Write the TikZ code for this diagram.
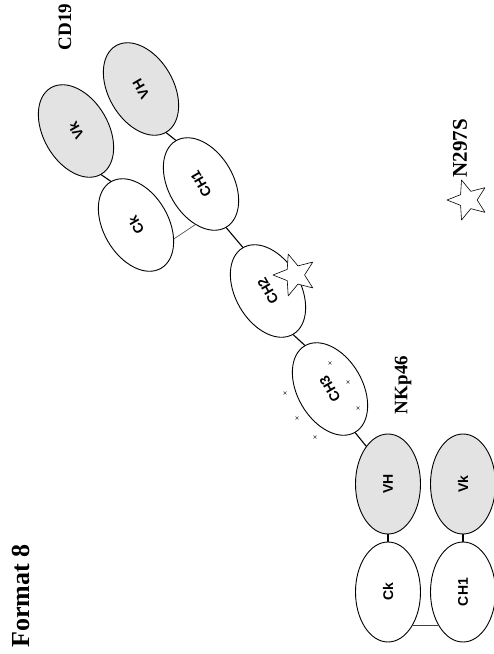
\documentclass[tikz,border=0pt]{standalone}
\usepackage{fontspec}
\setmainfont{Liberation Serif}
\setsansfont{Liberation Sans}
\usetikzlibrary{shapes.geometric}

\begin{document}
\begin{tikzpicture}[x=1pt, y=-1pt, line join=round, line cap=round,
  dom/.style={ellipse, draw, line width=0.9pt, fill=white, minimum width=100pt, minimum height=65pt,
    inner sep=0pt, font=\sffamily\bfseries\fontsize{14}{14}\selectfont},
  vdom/.style={dom, fill=gray!22},
  tilt/.style={rotate=120},
  flat/.style={rotate=90},
  hinge/.style={line width=1.1pt},
  ssbond/.style={line width=0.6pt, black!75},
  mutstar/.style={star, star points=5, star point ratio=2.3, draw, line width=0.6pt, fill=white,
    inner sep=0pt, minimum size=44pt, rotate=90},
  lbl/.style={font=\bfseries\fontsize{19}{19}\selectfont, rotate=90}]
\useasboundingbox (0,0) rectangle (494,654);

% anti-CD19 Fab
\node[vdom, tilt] (VkA) at (76,131) {Vk};
\node[vdom, tilt] (VHA) at (141,89) {VH};
\node[dom, tilt] (CkA) at (136,225) {Ck};
\node[dom, tilt] (CH1A) at (201,184) {CH1};
% Fc part
\node[dom, tilt] (CH2) at (268,291) {CH2};
\node[dom, tilt] (CH3) at (330,389) {CH3};
% anti-NKp46 Fab
\node[vdom, flat] (VHB) at (388,484) {VH};
\node[vdom, flat] (VkB) at (463,484) {Vk};
\node[dom, flat] (CkB) at (388,592) {Ck};
\node[dom, flat] (CH1B) at (463,592) {CH1};

\draw[hinge] (VkA.west) -- (CkA.east);
\draw[hinge] (VHA.west) -- (CH1A.east);
\draw[hinge] (CH1A.west) -- (CH2.east);
\draw[hinge] (CH2.west) -- (CH3.east);
\draw[hinge] (CH3.west) -- (VHB.30);
\draw[hinge] (VHB.west) -- (CkB.east);
\draw[hinge] (VkB.west) -- (CH1B.east);
\draw[ssbond] (CkA.-140) -- (CH1A.142);
\draw[ssbond] (CkB.-143) -- (CH1B.143);

% small marks on CH3
\foreach \p in {(285,393),(297,418),(315,437),(330,363),(348,382),(358,408)}
  \draw[line width=0.5pt, black!70] \p +(-1.5,-1.5) -- +(1.5,1.5) \p +(-1.5,1.5) -- +(1.5,-1.5);

% N297S mutation
\node[mutstar] (mut) at (295,275) {};
\node[mutstar, minimum size=42pt] (mutkey) at (468,200) {};
\node[lbl, font=\bfseries\fontsize{21}{21}\selectfont] (n297s) at (460,148) {N297S};

\node[lbl] (cd19) at (65,27) {CD19};
\node[lbl] (nkp46) at (403,385) {NKp46};
\node[lbl, font=\bfseries\fontsize{26}{26}\selectfont] (title) at (21,596) {Format 8};
\end{tikzpicture}
\end{document}
